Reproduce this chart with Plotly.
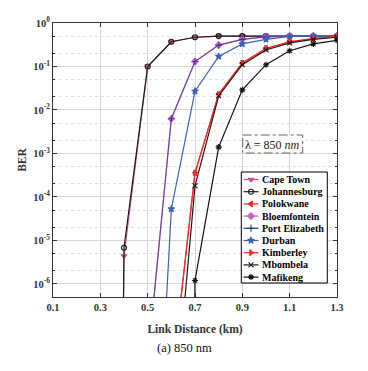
import plotly.graph_objects as go

distance = [0.3, 0.4, 0.5, 0.6, 0.7, 0.8, 0.9, 1.0, 1.1, 1.2, 1.3]

cape_town     = [1e-60, 4.4e-6, 0.1, 0.37, 0.47, 0.5, 0.5, 0.5, 0.5, 0.5, 0.5]
johannesburg  = [1e-60, 6.8e-6, 0.1, 0.37, 0.47, 0.5, 0.5, 0.5, 0.5, 0.5, 0.5]
polokwane     = [1e-30, 1e-20, 1e-15, 5e-9, 3.6e-4, 0.023, 0.12, 0.26, 0.37, 0.44, 0.49]
bloemfontein  = [1e-40, 1e-25, 1.6e-8, 6.3e-3, 0.13, 0.31, 0.42, 0.48, 0.5, 0.5, 0.5]
port_elizabeth= [1e-40, 1e-25, 1.6e-8, 6.3e-3, 0.13, 0.31, 0.42, 0.48, 0.5, 0.5, 0.5]
durban        = [1e-40, 1e-30, 4e-15, 5.3e-5, 0.027, 0.17, 0.33, 0.42, 0.49, 0.5, 0.5]
kimberley     = [1e-30, 1e-20, 1e-15, 5e-9, 3.6e-4, 0.023, 0.12, 0.26, 0.37, 0.44, 0.49]
mbombela      = [1e-30, 1e-20, 1e-15, 1.5e-10, 1.8e-4, 0.021, 0.11, 0.24, 0.35, 0.42, 0.47]
mafikeng      = [1e-60, 1e-60, 1e-60, 1e-60, 1.2e-6, 1.4e-3, 0.029, 0.11, 0.23, 0.33, 0.4]

names = ["Cape Town", "Johannesburg", "Polokwane", "Bloemfontein", "Port Elizabeth",
         "Durban", "Kimberley", "Mbombela", "Mafikeng"]
values = [cape_town, johannesburg, polokwane, bloemfontein, port_elizabeth,
          durban, kimberley, mbombela, mafikeng]
colors = ["#c8508f", "#1a1a1a", "#ee2020", "#c860c8", "rgba(30,40,130,0.55)",
          "#3a60b8", "#ff2a2a", "#1a1a1a", "#111111"]
legend_colors = ["#c8508f", "#1a1a1a", "#ee2020", "#c860c8", "#1e3a80",
                 "#3a60b8", "#ff2a2a", "#1a1a1a", "#111111"]
symbols = ["triangle-down", "circle-open", "triangle-left", "diamond", "cross-thin-open",
           "star", "triangle-right", "x-thin-open", "asterisk-open"]

x_ticks = [0.1, 0.3, 0.5, 0.7, 0.9, 1.1, 1.3]
y_tickvals = [1e-6, 1e-5, 1e-4, 1e-3, 1e-2, 1e-1, 1]
y_ticktext = ["10<sup>-6</sup>", "10<sup>-5</sup>", "10<sup>-4</sup>", "10<sup>-3</sup>",
              "10<sup>-2</sup>", "10<sup>-1</sup>", "10<sup>0</sup>"]

FONT = "Liberation Serif"

# page offset (browser body margin)
OFF = 8
W, H = 368 - OFF, 371 - OFF
# plot area in page pixels
L, R, T, B = 53, 337, 23, 297

fig = go.Figure()
for name, vals, color, sym in zip(names, values, colors, symbols):
    fig.add_trace(go.Scatter(
        x=distance, y=vals, name=name, mode="lines+markers", showlegend=False,
        line=dict(color=color, width=1.2),
        marker=dict(symbol=sym, size=5, color=color, line=dict(color=color, width=1.1)),
    ))

def box_trace(x0, x1, y0, y1, line):
    return go.Scatter(x=[x0, x1, x1, x0, x0], y=[y0, y0, y1, y1, y0], mode="lines",
                      fill="toself", fillcolor="white", line=line,
                      xaxis="x2", yaxis="y2", showlegend=False, hoverinfo="skip")

# lambda box
fig.add_trace(box_trace(242.7, 302.7, 135, 153, dict(color="#666", width=1, dash="dashdot")))
fig.add_annotation(xref="x2", yref="y2", x=272.7, y=144.5,
                   text="λ = 850 <i>nm</i>", showarrow=False,
                   font=dict(family=FONT, size=12, color="#222"))

# Manual compact legend
fig.add_trace(box_trace(241.3, 327.3, 172, 283, dict(color="black", width=1)))
row0, row_step = 179.5, 12.2
for i, (name, lc, sym) in enumerate(zip(names, legend_colors, symbols)):
    yy = row0 + i * row_step
    fig.add_trace(go.Scatter(x=[243.5, 258.5], y=[yy, yy], mode="lines", xaxis="x2", yaxis="y2",
                             showlegend=False, hoverinfo="skip",
                             line=dict(color=lc, width=1.2)))
    fig.add_trace(go.Scatter(x=[251], y=[yy], mode="markers", xaxis="x2", yaxis="y2",
                             showlegend=False, hoverinfo="skip",
                             marker=dict(symbol=sym, size=5, color=lc, line=dict(color=lc, width=1.1))))
    fig.add_annotation(xref="x2", yref="y2", x=260, y=yy, xanchor="left", yanchor="middle",
                       text=f"<b>{name}</b>", showarrow=False,
                       font=dict(family=FONT, size=10, color="black"))

fig.update_layout(
    width=W, height=H,
    margin=dict(l=L - OFF, r=W - (R - OFF), t=T - OFF, b=H - (B - OFF)),
    paper_bgcolor="white", plot_bgcolor="white",
    font=dict(family=FONT, size=10, color="#333"),
    showlegend=False,
    xaxis=dict(
        range=[0.1, 1.3], tickvals=x_ticks, ticktext=[f"{v:.1f}" for v in x_ticks],
        showgrid=True, gridcolor="#d6d6d6", gridwidth=1,
        ticks="inside", ticklen=4, tickcolor="#333", mirror="allticks",
        showline=True, linecolor="#333", linewidth=1, automargin=False,
        tickfont=dict(family=FONT, size=10.5, color="#333", weight="bold"),
        title=dict(text="Link Distance (km)", standoff=13,
                   font=dict(family=FONT, size=11.5, color="#333", weight="bold")),
        zeroline=False,
    ),
    yaxis=dict(
        type="log", range=[-6.3, 0],
        tickvals=y_tickvals, ticktext=y_ticktext,
        showgrid=True, gridcolor="#d6d6d6", gridwidth=1,
        ticks="inside", ticklen=4, tickcolor="#333", mirror="allticks",
        showline=True, linecolor="#333", linewidth=1, automargin=False,
        minor=dict(ticks="inside", ticklen=2, tickcolor="#333",
                   showgrid=True, gridcolor="#dedede", griddash="dot"),
        tickfont=dict(family=FONT, size=10.5, color="#333", weight="bold"),
        title=dict(text="BER", standoff=4,
                   font=dict(family=FONT, size=11.5, color="#333", weight="bold")),
        zeroline=False,
    ),
    xaxis2=dict(overlaying="x", anchor="y2", range=[L, R], visible=False, fixedrange=True),
    yaxis2=dict(overlaying="y", anchor="x2", range=[B, T], visible=False, fixedrange=True),
)

fig.add_annotation(xref="paper", yref="paper", x=(184 - L) / (R - L), y=(B - 348) / (B - T),
                   yanchor="middle", text="(a) 850 nm", showarrow=False,
                   font=dict(family=FONT, size=12.5, color="#111"))

fig.write_html("out.html")
